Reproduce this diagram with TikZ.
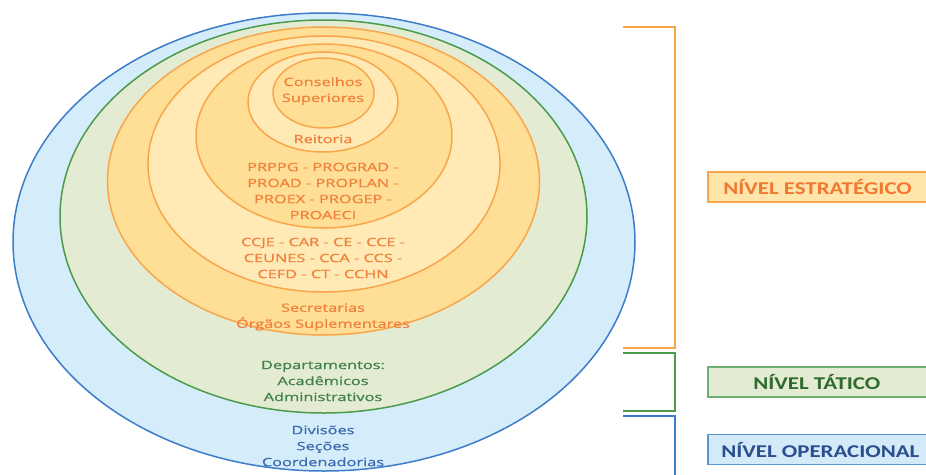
\documentclass[tikz,border=0pt]{standalone}
\usepackage{fontspec}
\setmainfont{Open Sans}[FakeBold=0.6]
\newfontfamily\labfont{Carlito}
\definecolor{bfill}{HTML}{D5EDFA}
\definecolor{bline}{HTML}{3D7CC9}
\definecolor{gfill}{HTML}{E4EBD3}
\definecolor{gline}{HTML}{4B9B4B}
\definecolor{oline}{HTML}{F9A64A}
\definecolor{odark}{HTML}{FFDF95}
\definecolor{olight}{HTML}{FFEAB5}
\definecolor{otext}{HTML}{F0803C}
\definecolor{gtext}{HTML}{3F7F4A}
\definecolor{btext}{HTML}{3B6AB0}
\definecolor{labo}{HTML}{FFE5AA}
\definecolor{labotext}{HTML}{F07830}
\definecolor{labgtext}{HTML}{2E6B2E}
\definecolor{labbfill}{HTML}{D5EAF8}
\definecolor{labbline}{HTML}{5B95D3}
\definecolor{labbtext}{HTML}{2A4F8F}
\begin{document}
\begin{tikzpicture}[x=1pt,y=-1pt,
  ring/.style={line width=1.5pt},
  txt/.style={font=\fontsize{11.5}{16}\selectfont, align=center, inner sep=0pt, xscale=1.42},
  lab/.style={draw, line width=1.5pt, minimum height=30pt, anchor=west, inner sep=0pt},
  labtxt/.style={font=\labfont\bfseries\fontsize{18}{20}\selectfont, inner sep=0pt, xscale=1.27},
  brk/.style={line width=1.5pt}]
\useasboundingbox (0,0) rectangle (926,474);
% rings
\draw[ring, draw=bline, fill=bfill] (324,242) ellipse [x radius=311, y radius=229];
\draw[ring, draw=gline, fill=gfill] (323.5,216.5) ellipse [x radius=263.5, y radius=196.5];
\draw[ring, draw=oline, fill=odark] (323.5,181) ellipse [x radius=216, y radius=154];
\draw[ring, draw=oline, fill=olight] (324,164) ellipse [x radius=176, y radius=128];
\draw[ring, draw=oline, fill=odark] (324,136) ellipse [x radius=128, y radius=92];
\draw[ring, draw=oline, fill=olight] (323,102) ellipse [x radius=75, y radius=50];
\draw[ring, draw=oline, fill=odark] (323.5,93) ellipse [x radius=50.5, y radius=35];
% texts
\node[txt, text=otext] (cons) at (323,91) {Conselhos\\Superiores};
\node[txt, text=otext] (reit) at (323,139) {Reitoria};
\node[txt, text=otext] (pro) at (323,191) {PRPPG - PROGRAD -\\PROAD - PROPLAN -\\PROEX - PROGEP -\\PROAECI};
\node[txt, text=otext] (cent) at (323,258) {CCJE - CAR - CE - CCE -\\CEUNES - CCA - CCS -\\CEFD - CT - CCHN};
\node[txt, text=otext] (sec) at (323,317) {Secretarias\\Órgãos Suplementares};
\node[txt, text=gtext] (dep) at (323,381) {Departamentos:\\Acadêmicos\\Administrativos};
\node[txt, text=btext] (div) at (323,446) {Divisões\\Seções\\Coordenadorias};
% brackets
\coordinate (o1) at (623,27); \coordinate (o2) at (675,27);
\coordinate (o3) at (675,348); \coordinate (o4) at (623,348);
\draw[brk, draw=oline] (o1) -- (o2) -- (o3) -- (o4);
\coordinate (g1) at (623,353); \coordinate (g2) at (675,353);
\coordinate (g3) at (675,411); \coordinate (g4) at (623,411);
\draw[brk, draw=gline] (g1) -- (g2) -- (g3) -- (g4);
\coordinate (b1) at (623,416); \coordinate (b2) at (675,416);
\coordinate (b3) at (675,476);
\draw[brk, draw=bline] (b1) -- (b2) -- (b3);
% labels
\node[lab, draw=oline, fill=labo, minimum width=230pt] (le) at (707,187) {};
\node[labtxt, text=labotext, anchor=west] (let) at (723,187) {NÍVEL ESTRATÉGICO};
\node[lab, draw=gline!80, fill=gfill, minimum width=230pt] (lt) at (707,382) {};
\node[labtxt, text=labgtext, anchor=west] (ltt) at (753,382) {NÍVEL TÁTICO};
\node[lab, draw=labbline, fill=labbfill, minimum width=230pt] (lo) at (707,449.5) {};
\node[labtxt, text=labbtext, anchor=west] (lot) at (721,449.5) {NÍVEL OPERACIONAL};
\end{tikzpicture}
\end{document}
